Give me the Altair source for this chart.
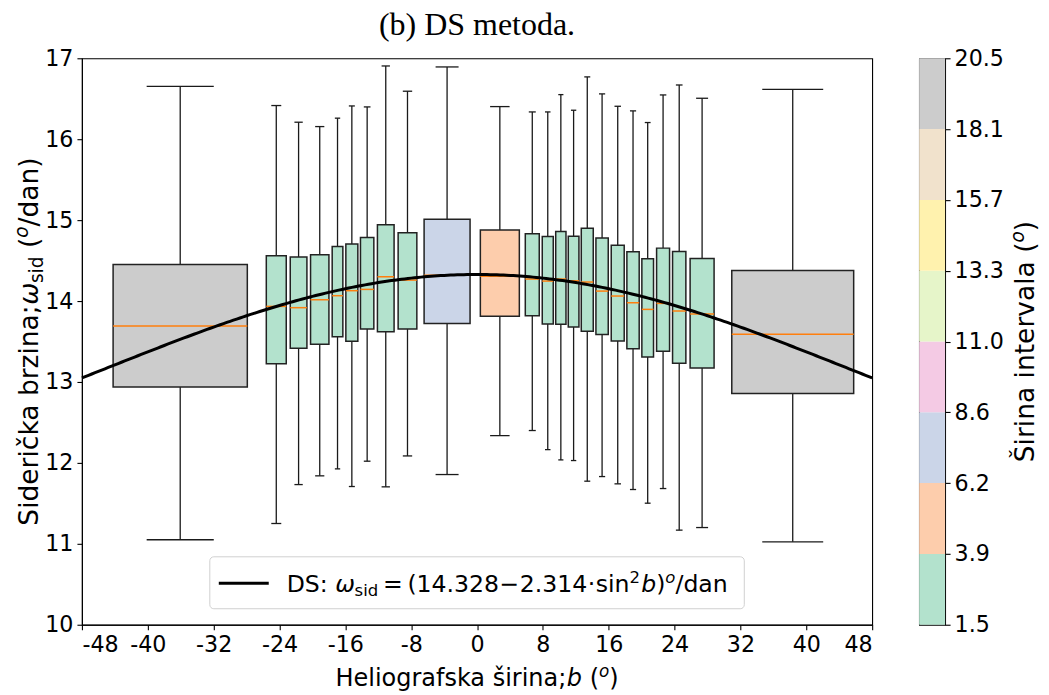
import altair as alt
import numpy as np
import pandas as pd

# ---------------- data ----------------
centers = [-36.06, -24.39, -21.68, -19.11, -16.95, -15.21, -13.35, -11.09, -8.45, -3.64,
           2.77, 6.71, 8.59, 10.18, 11.73, 13.39, 15.19, 17.09, 18.95, 20.73, 22.60, 24.56,
           27.34, 38.35]
widths = [20.38, 3.03, 2.53, 2.79, 1.62, 1.82, 2.03, 2.53, 2.84, 6.98,
          5.92, 2.12, 1.67, 1.56, 1.62, 1.82, 1.87, 1.97, 1.87, 1.77, 1.97, 2.02,
          3.64, 18.51]
whisk_lo = [11.05, 11.251, 11.732, 11.84, 11.926, 11.708, 12.021, 11.704, 12.086, 11.856,
            12.337, 12.40, 12.164, 12.037, 12.029, 11.774, 11.831, 11.741, 11.671, 11.502,
            11.683, 11.169, 11.201, 11.025]
q1 = [12.938, 13.226, 13.416, 13.465, 13.56, 13.502, 13.654, 13.621, 13.654, 13.724,
      13.811, 13.819, 13.716, 13.712, 13.679, 13.626, 13.588, 13.506, 13.411, 13.309,
      13.379, 13.231, 13.173, 12.856]
med = [13.691, 13.934, 13.918, 14.016, 14.066, 14.128, 14.144, 14.30, 14.259, 14.32,
       14.305, 14.272, 14.247, 14.272, 14.25, 14.235, 14.123, 14.062, 13.979, 13.897,
       13.971, 13.877, 13.84, 13.589]
q3 = [14.453, 14.559, 14.543, 14.572, 14.675, 14.704, 14.786, 14.942, 14.843, 15.012,
      14.877, 14.831, 14.798, 14.860, 14.802, 14.901, 14.778, 14.691, 14.609, 14.523,
      14.654, 14.613, 14.527, 14.379]
whisk_hi = [16.654, 16.416, 16.21, 16.156, 16.26, 16.411, 16.399, 16.905, 16.593, 16.893,
            16.403, 16.337, 16.337, 16.551, 16.358, 16.77, 16.56, 16.407, 16.35, 16.206,
            16.547, 16.67, 16.506, 16.617]

fit_a = 14.328
fit_b = 2.314

x_ticks = list(range(-48, 49, 8))
y_ticks = list(range(10, 18))
cb_bounds = [1.5, 3.875, 6.25, 8.625, 11.0, 13.375, 15.75, 18.125, 20.5]
cb_labels = ["1.5", "3.9", "6.2", "8.6", "11.0", "13.3", "15.7", "18.1", "20.5"]
pastel2 = ["#b3e2cd", "#fdcdac", "#cbd5e8", "#f4cae4", "#e6f5c9", "#fff2ae", "#f1e2cc", "#cccccc"]

# ---------------- tables ----------------
df = pd.DataFrame(dict(center=centers, width=widths, lo=whisk_lo, q1=q1, med=med,
                       q3=q3, hi=whisk_hi))
df["x1"] = df.center - 0.4 * df.width
df["x2"] = df.center + 0.4 * df.width
df["c1"] = df.center - 0.2 * df.width
df["c2"] = df.center + 0.2 * df.width

bb = np.linspace(-48, 48, 241)
curve = pd.DataFrame({"b": bb, "w": fit_a - fit_b * np.sin(np.radians(bb)) ** 2})

cb = pd.DataFrame({"lo": cb_bounds[:-1], "hi": cb_bounds[1:]})
cb["mid"] = (cb.lo + cb.hi) / 2

one = pd.DataFrame({"k": [0]})

# ---------------- geometry ----------------
W, H = 791, 567
CBW = 26
FONT = "DejaVu Sans"

xs = alt.Scale(domain=[-48, 48], nice=False, zero=False)
ys = alt.Scale(domain=[10, 17], nice=False, zero=False)
cscale = alt.Scale(type="threshold", domain=cb_bounds[1:-1], range=pastel2)

xaxis = alt.Axis(values=x_ticks, labelExpr="'' + datum.value", title=None, grid=False)
yaxis = alt.Axis(values=y_ticks, format="d", title=None, grid=False)


def X(f):
    return alt.X(f, type="quantitative", scale=xs, axis=xaxis)


def Y(f):
    return alt.Y(f, type="quantitative", scale=ys, axis=yaxis)


base = alt.Chart(df)
LC = "#1a1a1a"
whisk_low = base.mark_rule(color=LC, strokeWidth=1.3).encode(x=X("center"), y=Y("lo"), y2="q1")
whisk_high = base.mark_rule(color=LC, strokeWidth=1.3).encode(x=X("center"), y=Y("q3"), y2="hi")
cap_low = base.mark_rule(color=LC, strokeWidth=1.3).encode(x=X("c1"), x2="c2", y=Y("lo"))
cap_high = base.mark_rule(color=LC, strokeWidth=1.3).encode(x=X("c1"), x2="c2", y=Y("hi"))
boxes = base.mark_rect(stroke="#222222", strokeWidth=1.5).encode(
    x=X("x1"), x2="x2", y=Y("q1"), y2="q3",
    color=alt.Color("width:Q", scale=cscale, legend=None))
medians = base.mark_rule(color="#ff7f0e", strokeWidth=1.5).encode(x=X("x1"), x2="x2", y=Y("med"))
fit_line = alt.Chart(curve).mark_line(color="black", strokeWidth=3).encode(x=X("b"), y=Y("w"))

# ---------------- text helpers (mathtext-like pieces) ----------------
ADV = {' ': 651, '(': 799, ')': 799, '.': 651, '/': 690, ':': 690, ';': 690, '=': 1716,
       '\u2212': 1716, '\u00b7': 651, 'D': 1577, 'H': 1540, 'S': 1300, '\u0160': 1300,
       'a': 1255, 'b': 1300, 'c': 1126, '\u010d': 1126, 'd': 1300, 'e': 1260, 'f': 721,
       'g': 1300, 'i': 569, 'k': 1186, 'l': 569, 'n': 1298, 'o': 1253, 'r': 842, 's': 1067,
       '\u0161': 1067, 't': 803, 'v': 1212, 'z': 1075, '\u03c9': 1675}
for d in "0123456789":
    ADV[d] = 1303


def tw(s, size):
    return sum(ADV.get(ch, 1250) for ch in s) / 2048.0 * size


def pieces_width(pieces, fs):
    tot = 0
    for t, sc, it, sh, gap in pieces:
        tot += gap * fs + tw(t, fs * sc)
    return tot


def math_text(pieces, fs, x0, y0, align="left", rotate=False):
    """pieces: (text, rel_size, italic, shift_em(down +), gap_em_before)"""
    total = pieces_width(pieces, fs)
    pos = -total / 2 if align == "center" else 0
    layers = []
    for t, sc, it, sh, gap in pieces:
        pos += gap * fs
        size = fs * sc
        lead = len(t) - len(t.lstrip(" "))
        pos += tw(" " * lead, size)
        txt = t.strip(" ")
        kw = dict(align="left", baseline="alphabetic", fontSize=size, font=FONT,
                  color="black", fontStyle="italic" if it else "normal")
        if rotate:
            mk = alt.Chart(one).mark_text(angle=270, **kw).encode(
                x=alt.value(x0 + sh * fs), y=alt.value(y0 - pos), text=alt.value(txt))
        else:
            mk = alt.Chart(one).mark_text(**kw).encode(
                x=alt.value(x0 + pos), y=alt.value(y0 + sh * fs), text=alt.value(txt))
        layers.append(mk)
        pos += tw(t.lstrip(" "), size)
    return layers


SUB = 0.2
SUP = -0.38

ylab = math_text([("Siderička brzina;", 1, False, 0, 0), ("\u03c9", 1, True, 0, 0),
                  ("sid", 0.7, False, SUB, 0), (" (", 1, False, 0, 0),
                  ("o", 0.7, True, SUP, 0), ("/dan)", 1, False, 0, 0)],
                 26.5, -44, H / 2, align="center", rotate=True)

xlab = math_text([("Heliografska širina;", 1, False, 0, 0), ("b", 1, True, 0, 0),
                  (" (", 1, False, 0, 0), ("o", 0.7, True, SUP, 0), (")", 1, False, 0, 0)],
                 24, W / 2, 628, align="center")

leg_pieces = [("DS: ", 1, False, 0, 0), ("\u03c9", 1, True, 0, 0), ("sid", 0.7, False, SUB, 0),
              ("=", 1, False, 0, 0.2), ("(14.328", 1, False, 0, 0.2),
              ("\u2212", 1, False, 0, 0.02), ("2.314", 1, False, 0, 0.02),
              ("\u00b7", 1, False, 0, 0.02), ("sin", 1, False, 0, 0.02),
              ("2", 0.7, False, SUP, 0), ("b", 1, True, 0, 0.05), (")", 1, False, 0, 0),
              ("o", 0.7, True, SUP, 0), ("/dan", 1, False, 0, 0)]
legtxt = math_text(leg_pieces, 23.6, 205, 534)

leg_box = alt.Chart(one).mark_rect(fill="white", fillOpacity=0.85, stroke="#d0d0d0",
                                   strokeWidth=1, cornerRadius=4).encode(
    x=alt.value(128), x2=alt.value(663), y=alt.value(499), y2=alt.value(551))
leg_line = alt.Chart(one).mark_rule(color="black", strokeWidth=3).encode(
    x=alt.value(137), x2=alt.value(187), y=alt.value(525.5))

title = alt.Chart(one).mark_text(font="Liberation Serif", fontSize=32, align="center",
                                 baseline="alphabetic", color="black").encode(
    x=alt.value(W / 2), y=alt.value(-23), text=alt.value("(b) DS metoda."))

main = alt.layer(whisk_low, whisk_high, cap_low, cap_high, boxes, medians, fit_line,
                 leg_box, leg_line, *legtxt, *xlab, *ylab, title).properties(width=W, height=H)

# ---------------- colour bar ----------------
cb_expr = "[" + ",".join("'%s'" % s for s in cb_labels) + "][round((datum.value - %g) / %g)]" % (
    cb_bounds[0], cb_bounds[1] - cb_bounds[0])
cbar_rect = alt.Chart(cb).mark_rect().encode(
    x=alt.value(0), x2=alt.value(CBW),
    y=alt.Y("lo:Q", scale=alt.Scale(domain=[cb_bounds[0], cb_bounds[-1]], nice=False, zero=False),
            axis=alt.Axis(orient="right", values=cb_bounds, labelExpr=cb_expr, title=None,
                          grid=False, domain=False)),
    y2="hi",
    color=alt.Color("mid:Q", scale=cscale, legend=None))
cblab = math_text([("Širina intervala (", 1, False, 0, 0), ("o", 0.7, True, SUP, 0),
                   (")", 1, False, 0, 0)], 26.5, 115, H / 2, align="center", rotate=True)
cbar = alt.layer(cbar_rect, *cblab).properties(width=CBW, height=H)

chart = alt.hconcat(main, cbar, spacing=39).properties(
    padding={"left": 4, "top": 0, "right": 0, "bottom": 0}
).configure_view(stroke="black", strokeWidth=1.1).configure_axis(
    labelFont=FONT, labelFontSize=22.2, labelColor="black", tickColor="black",
    domainColor="black", tickSize=5, tickWidth=1.1, domainWidth=1.1, labelPadding=4
)

chart.save("out.html", embed_options={"renderer": "svg", "actions": False})
